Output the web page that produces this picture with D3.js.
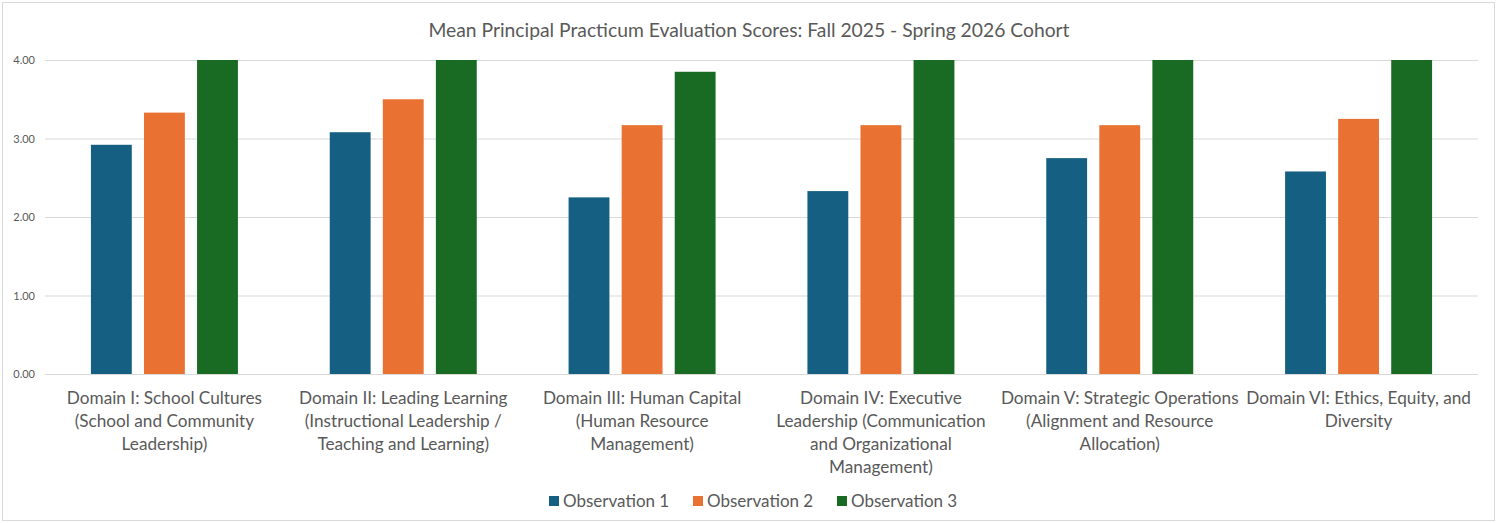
<!DOCTYPE html>
<html><head><meta charset="utf-8">
<script src="https://cdn.jsdelivr.net/npm/d3@7"></script>
<style>
html,body{margin:0;padding:0;background:#fff;}
text{font-family:Lato,"Open Sans",sans-serif;fill:#595959;}
</style></head>
<body><svg id="c" width="1499" height="523"></svg>
<script>
const categories = [
  ["Domain I: School Cultures","(School and Community","Leadership)"],
  ["Domain II: Leading Learning","(Instructional Leadership /","Teaching and Learning)"],
  ["Domain III: Human Capital","(Human Resource","Management)"],
  ["Domain IV: Executive","Leadership (Communication","and Organizational","Management)"],
  ["Domain V: Strategic Operations","(Alignment and Resource","Allocation)"],
  ["Domain VI: Ethics, Equity, and","Diversity"]
];
const seriesNames = ["Observation 1","Observation 2","Observation 3"];
const obs1 = [2.92, 3.08, 2.25, 2.33, 2.75, 2.58];
const obs2 = [3.33, 3.50, 3.17, 3.17, 3.17, 3.25];
const obs3 = [4.00, 4.00, 3.85, 4.00, 4.00, 4.00];
const yTicks = [0, 1, 2, 3, 4];
const colors = ["#156082", "#E97132", "#196B24"];
const title = "Mean Principal Practicum Evaluation Scores: Fall 2025 - Spring 2026 Cohort";

const series = [obs1, obs2, obs3];
const svg = d3.select("#c");
const W = 1499, H = 523;
svg.append("rect").attr("x",2.5).attr("y",2.5).attr("width",W-7).attr("height",H-5)
  .attr("fill","#fff").attr("stroke","#d9d9d9");

const pLeft = 45, pRight = 1478, pTop = 60, pBottom = 374;
const x = d3.scaleBand().domain(d3.range(categories.length)).range([pLeft, pRight]).paddingInner(0).paddingOuter(0);
const y = d3.scaleLinear().domain([0, 4]).range([pBottom, pTop]);
const xs = d3.scaleBand().domain(d3.range(series.length)).range([0, 147]).paddingInner(0.23);
const groupOffset = (x.bandwidth() - 147) / 2;

svg.append("text").attr("x", 749).attr("y", 37).attr("text-anchor","middle")
  .style("font-size","19.3px").text(title);

// gridlines
svg.append("g").selectAll("line").data(yTicks).join("line")
  .attr("x1", pLeft).attr("x2", pRight).attr("y1", d=>y(d)+0.5).attr("y2", d=>y(d)+0.5)
  .attr("stroke","#d9d9d9").attr("stroke-width",1);

// y axis
const yAxis = d3.axisLeft(y).tickValues(yTicks).tickFormat(d3.format(".2f")).tickSize(0).tickPadding(10);
const gy = svg.append("g").attr("transform",`translate(${pLeft},0)`).call(yAxis);
gy.select(".domain").remove();
gy.selectAll("text").style("font-size","11px").style("fill","#595959").style("font-family","Lato,sans-serif");

// bars
series.forEach((vals, si) => {
  svg.append("g").selectAll("rect").data(vals).join("rect")
    .attr("x", (d,i)=> x(i) + groupOffset + xs(si))
    .attr("width", xs.bandwidth())
    .attr("y", d=> y(d))
    .attr("height", d=> y(0) - y(d))
    .attr("fill", colors[si]);
});

// x axis labels
const xAxis = d3.axisBottom(x).tickSize(0).tickFormat(()=>"");
const gx = svg.append("g").attr("transform",`translate(0,${pBottom})`).call(xAxis);
gx.select(".domain").remove();
gx.selectAll(".tick").each(function(i){
  const t = d3.select(this).append("text").attr("text-anchor","middle")
    .style("font-size","17.2px").style("fill","#595959");
  categories[i].forEach((line, li) => {
    t.append("tspan").attr("x",0).attr("y", 30 + li*23).text(line);
  });
});

// legend
const legendX = [549, 693, 837];
const lg = svg.append("g");
seriesNames.forEach((n, i) => {
  lg.append("rect").attr("x", legendX[i]).attr("y", 496).attr("width",10).attr("height",10).attr("fill", colors[i]);
  lg.append("text").attr("x", legendX[i]+14).attr("y", 507).style("font-size","17px").text(n);
});
</script></body></html>
